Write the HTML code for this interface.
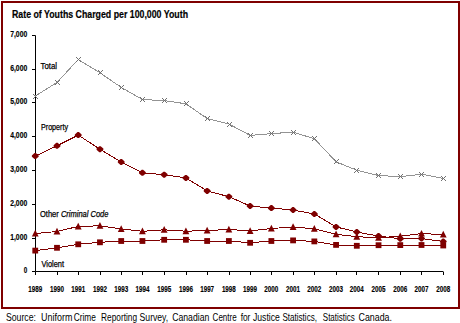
<!DOCTYPE html>
<html><head><meta charset="utf-8"><style>
html,body{margin:0;padding:0;background:#fff;width:460px;height:323px;overflow:hidden}
.box{position:absolute;left:1px;top:1px;width:455px;height:304px;border:2px solid #7f0000;}
svg{position:absolute;left:0;top:0;font-family:"Liberation Sans",sans-serif}
</style></head><body>
<div class="box"></div>
<svg width="460" height="310" viewBox="0 0 460 310" style="font-family:'Liberation Sans',sans-serif">
<path d="M35.5 35.5 V271.5 H443" stroke="#000" stroke-width="1" fill="none"/>
<path d="M32 271.5 H35.5" stroke="#000" stroke-width="1"/>
<path d="M32 238.5 H35.5" stroke="#000" stroke-width="1"/>
<path d="M32 204.5 H35.5" stroke="#000" stroke-width="1"/>
<path d="M32 170.5 H35.5" stroke="#000" stroke-width="1"/>
<path d="M32 136.5 H35.5" stroke="#000" stroke-width="1"/>
<path d="M32 102.5 H35.5" stroke="#000" stroke-width="1"/>
<path d="M32 69.5 H35.5" stroke="#000" stroke-width="1"/>
<path d="M32 35.5 H35.5" stroke="#000" stroke-width="1"/>
<path d="M35.5 271.5 V275" stroke="#000" stroke-width="1"/>
<path d="M57.5 271.5 V275" stroke="#000" stroke-width="1"/>
<path d="M78.5 271.5 V275" stroke="#000" stroke-width="1"/>
<path d="M100.5 271.5 V275" stroke="#000" stroke-width="1"/>
<path d="M121.5 271.5 V275" stroke="#000" stroke-width="1"/>
<path d="M142.5 271.5 V275" stroke="#000" stroke-width="1"/>
<path d="M164.5 271.5 V275" stroke="#000" stroke-width="1"/>
<path d="M186.5 271.5 V275" stroke="#000" stroke-width="1"/>
<path d="M207.5 271.5 V275" stroke="#000" stroke-width="1"/>
<path d="M229.5 271.5 V275" stroke="#000" stroke-width="1"/>
<path d="M250.5 271.5 V275" stroke="#000" stroke-width="1"/>
<path d="M271.5 271.5 V275" stroke="#000" stroke-width="1"/>
<path d="M293.5 271.5 V275" stroke="#000" stroke-width="1"/>
<path d="M314.5 271.5 V275" stroke="#000" stroke-width="1"/>
<path d="M336.5 271.5 V275" stroke="#000" stroke-width="1"/>
<path d="M356.5 271.5 V275" stroke="#000" stroke-width="1"/>
<path d="M378.5 271.5 V275" stroke="#000" stroke-width="1"/>
<path d="M400.5 271.5 V275" stroke="#000" stroke-width="1"/>
<path d="M421.5 271.5 V275" stroke="#000" stroke-width="1"/>
<path d="M443.5 271.5 V275" stroke="#000" stroke-width="1"/>
<polyline points="35.25,96.00 56.99,82.50 78.22,59.50 99.96,72.80 121.20,87.40 142.43,99.50 164.17,100.60 185.91,103.80 207.14,118.50 228.88,124.00 250.12,135.40 271.36,133.60 293.09,132.20 314.33,138.70 336.07,161.80 356.80,170.30 378.54,175.50 400.28,176.70 421.51,174.20 443.25,178.50" fill="none" stroke="#939393" stroke-width="1.0" stroke-linejoin="round" shape-rendering="crispEdges"/>
<path d="M33.0 94h1v1h-1zM34.0 95h1v1h-1zM35.0 96h1v1h-1zM36.0 97h1v1h-1zM37.0 98h1v1h-1zM33 98h1v1h-1zM34 97h1v1h-1zM36 95h1v1h-1zM37 94h1v1h-1z" fill="#707070"/>
<path d="M55.0 80h1v1h-1zM56.0 81h1v1h-1zM57.0 82h1v1h-1zM58.0 83h1v1h-1zM59.0 84h1v1h-1zM55 84h1v1h-1zM56 83h1v1h-1zM58 81h1v1h-1zM59 80h1v1h-1z" fill="#707070"/>
<path d="M76.0 57h1v1h-1zM77.0 58h1v1h-1zM78.0 59h1v1h-1zM79.0 60h1v1h-1zM80.0 61h1v1h-1zM76 61h1v1h-1zM77 60h1v1h-1zM79 58h1v1h-1zM80 57h1v1h-1z" fill="#707070"/>
<path d="M98.0 70h1v1h-1zM99.0 71h1v1h-1zM100.0 72h1v1h-1zM101.0 73h1v1h-1zM102.0 74h1v1h-1zM98 74h1v1h-1zM99 73h1v1h-1zM101 71h1v1h-1zM102 70h1v1h-1z" fill="#707070"/>
<path d="M119.0 85h1v1h-1zM120.0 86h1v1h-1zM121.0 87h1v1h-1zM122.0 88h1v1h-1zM123.0 89h1v1h-1zM119 89h1v1h-1zM120 88h1v1h-1zM122 86h1v1h-1zM123 85h1v1h-1z" fill="#707070"/>
<path d="M140.0 97h1v1h-1zM141.0 98h1v1h-1zM142.0 99h1v1h-1zM143.0 100h1v1h-1zM144.0 101h1v1h-1zM140 101h1v1h-1zM141 100h1v1h-1zM143 98h1v1h-1zM144 97h1v1h-1z" fill="#707070"/>
<path d="M162.0 98h1v1h-1zM163.0 99h1v1h-1zM164.0 100h1v1h-1zM165.0 101h1v1h-1zM166.0 102h1v1h-1zM162 102h1v1h-1zM163 101h1v1h-1zM165 99h1v1h-1zM166 98h1v1h-1z" fill="#707070"/>
<path d="M184.0 101h1v1h-1zM185.0 102h1v1h-1zM186.0 103h1v1h-1zM187.0 104h1v1h-1zM188.0 105h1v1h-1zM184 105h1v1h-1zM185 104h1v1h-1zM187 102h1v1h-1zM188 101h1v1h-1z" fill="#707070"/>
<path d="M205.0 116h1v1h-1zM206.0 117h1v1h-1zM207.0 118h1v1h-1zM208.0 119h1v1h-1zM209.0 120h1v1h-1zM205 120h1v1h-1zM206 119h1v1h-1zM208 117h1v1h-1zM209 116h1v1h-1z" fill="#707070"/>
<path d="M227.0 122h1v1h-1zM228.0 123h1v1h-1zM229.0 124h1v1h-1zM230.0 125h1v1h-1zM231.0 126h1v1h-1zM227 126h1v1h-1zM228 125h1v1h-1zM230 123h1v1h-1zM231 122h1v1h-1z" fill="#707070"/>
<path d="M248.0 133h1v1h-1zM249.0 134h1v1h-1zM250.0 135h1v1h-1zM251.0 136h1v1h-1zM252.0 137h1v1h-1zM248 137h1v1h-1zM249 136h1v1h-1zM251 134h1v1h-1zM252 133h1v1h-1z" fill="#707070"/>
<path d="M269.0 131h1v1h-1zM270.0 132h1v1h-1zM271.0 133h1v1h-1zM272.0 134h1v1h-1zM273.0 135h1v1h-1zM269 135h1v1h-1zM270 134h1v1h-1zM272 132h1v1h-1zM273 131h1v1h-1z" fill="#707070"/>
<path d="M291.0 130h1v1h-1zM292.0 131h1v1h-1zM293.0 132h1v1h-1zM294.0 133h1v1h-1zM295.0 134h1v1h-1zM291 134h1v1h-1zM292 133h1v1h-1zM294 131h1v1h-1zM295 130h1v1h-1z" fill="#707070"/>
<path d="M312.0 136h1v1h-1zM313.0 137h1v1h-1zM314.0 138h1v1h-1zM315.0 139h1v1h-1zM316.0 140h1v1h-1zM312 140h1v1h-1zM313 139h1v1h-1zM315 137h1v1h-1zM316 136h1v1h-1z" fill="#707070"/>
<path d="M334.0 159h1v1h-1zM335.0 160h1v1h-1zM336.0 161h1v1h-1zM337.0 162h1v1h-1zM338.0 163h1v1h-1zM334 163h1v1h-1zM335 162h1v1h-1zM337 160h1v1h-1zM338 159h1v1h-1z" fill="#707070"/>
<path d="M354.0 168h1v1h-1zM355.0 169h1v1h-1zM356.0 170h1v1h-1zM357.0 171h1v1h-1zM358.0 172h1v1h-1zM354 172h1v1h-1zM355 171h1v1h-1zM357 169h1v1h-1zM358 168h1v1h-1z" fill="#707070"/>
<path d="M376.0 173h1v1h-1zM377.0 174h1v1h-1zM378.0 175h1v1h-1zM379.0 176h1v1h-1zM380.0 177h1v1h-1zM376 177h1v1h-1zM377 176h1v1h-1zM379 174h1v1h-1zM380 173h1v1h-1z" fill="#707070"/>
<path d="M398.0 174h1v1h-1zM399.0 175h1v1h-1zM400.0 176h1v1h-1zM401.0 177h1v1h-1zM402.0 178h1v1h-1zM398 178h1v1h-1zM399 177h1v1h-1zM401 175h1v1h-1zM402 174h1v1h-1z" fill="#707070"/>
<path d="M419.0 172h1v1h-1zM420.0 173h1v1h-1zM421.0 174h1v1h-1zM422.0 175h1v1h-1zM423.0 176h1v1h-1zM419 176h1v1h-1zM420 175h1v1h-1zM422 173h1v1h-1zM423 172h1v1h-1z" fill="#707070"/>
<path d="M441.0 176h1v1h-1zM442.0 177h1v1h-1zM443.0 178h1v1h-1zM444.0 179h1v1h-1zM445.0 180h1v1h-1zM441 180h1v1h-1zM442 179h1v1h-1zM444 177h1v1h-1zM445 176h1v1h-1z" fill="#707070"/>
<polyline points="35.25,156.10 56.99,145.80 78.22,135.10 99.96,149.20 121.20,162.00 142.43,172.80 164.17,174.70 185.91,177.90 207.14,190.90 228.88,196.70 250.12,206.00 271.36,208.10 293.09,210.00 314.33,214.00 336.07,226.90 356.80,232.00 378.54,236.10 400.28,238.70 421.51,238.50 443.25,241.50" fill="none" stroke="#7f0000" stroke-width="1.0" stroke-linejoin="round" shape-rendering="crispEdges"/>
<path d="M34.55 153.10 L35.95 153.10 L38.65 155.50 L38.65 156.70 L35.95 159.10 L34.55 159.10 L31.85 156.70 L31.85 155.50Z" fill="#7f0000"/>
<path d="M56.29 142.80 L57.69 142.80 L60.39 145.20 L60.39 146.40 L57.69 148.80 L56.29 148.80 L53.59 146.40 L53.59 145.20Z" fill="#7f0000"/>
<path d="M77.52 132.10 L78.92 132.10 L81.62 134.50 L81.62 135.70 L78.92 138.10 L77.52 138.10 L74.82 135.70 L74.82 134.50Z" fill="#7f0000"/>
<path d="M99.26 146.20 L100.66 146.20 L103.36 148.60 L103.36 149.80 L100.66 152.20 L99.26 152.20 L96.56 149.80 L96.56 148.60Z" fill="#7f0000"/>
<path d="M120.50 159.00 L121.90 159.00 L124.60 161.40 L124.60 162.60 L121.90 165.00 L120.50 165.00 L117.80 162.60 L117.80 161.40Z" fill="#7f0000"/>
<path d="M141.73 169.80 L143.13 169.80 L145.83 172.20 L145.83 173.40 L143.13 175.80 L141.73 175.80 L139.03 173.40 L139.03 172.20Z" fill="#7f0000"/>
<path d="M163.47 171.70 L164.87 171.70 L167.57 174.10 L167.57 175.30 L164.87 177.70 L163.47 177.70 L160.77 175.30 L160.77 174.10Z" fill="#7f0000"/>
<path d="M185.21 174.90 L186.61 174.90 L189.31 177.30 L189.31 178.50 L186.61 180.90 L185.21 180.90 L182.51 178.50 L182.51 177.30Z" fill="#7f0000"/>
<path d="M206.44 187.90 L207.84 187.90 L210.54 190.30 L210.54 191.50 L207.84 193.90 L206.44 193.90 L203.74 191.50 L203.74 190.30Z" fill="#7f0000"/>
<path d="M228.18 193.70 L229.58 193.70 L232.28 196.10 L232.28 197.30 L229.58 199.70 L228.18 199.70 L225.48 197.30 L225.48 196.10Z" fill="#7f0000"/>
<path d="M249.42 203.00 L250.82 203.00 L253.52 205.40 L253.52 206.60 L250.82 209.00 L249.42 209.00 L246.72 206.60 L246.72 205.40Z" fill="#7f0000"/>
<path d="M270.66 205.10 L272.06 205.10 L274.76 207.50 L274.76 208.70 L272.06 211.10 L270.66 211.10 L267.96 208.70 L267.96 207.50Z" fill="#7f0000"/>
<path d="M292.39 207.00 L293.79 207.00 L296.49 209.40 L296.49 210.60 L293.79 213.00 L292.39 213.00 L289.69 210.60 L289.69 209.40Z" fill="#7f0000"/>
<path d="M313.63 211.00 L315.03 211.00 L317.73 213.40 L317.73 214.60 L315.03 217.00 L313.63 217.00 L310.93 214.60 L310.93 213.40Z" fill="#7f0000"/>
<path d="M335.37 223.90 L336.77 223.90 L339.47 226.30 L339.47 227.50 L336.77 229.90 L335.37 229.90 L332.67 227.50 L332.67 226.30Z" fill="#7f0000"/>
<path d="M356.10 229.00 L357.50 229.00 L360.20 231.40 L360.20 232.60 L357.50 235.00 L356.10 235.00 L353.40 232.60 L353.40 231.40Z" fill="#7f0000"/>
<path d="M377.84 233.10 L379.24 233.10 L381.94 235.50 L381.94 236.70 L379.24 239.10 L377.84 239.10 L375.14 236.70 L375.14 235.50Z" fill="#7f0000"/>
<path d="M399.58 235.70 L400.98 235.70 L403.68 238.10 L403.68 239.30 L400.98 241.70 L399.58 241.70 L396.88 239.30 L396.88 238.10Z" fill="#7f0000"/>
<path d="M420.81 235.50 L422.21 235.50 L424.91 237.90 L424.91 239.10 L422.21 241.50 L420.81 241.50 L418.11 239.10 L418.11 237.90Z" fill="#7f0000"/>
<path d="M442.55 238.50 L443.95 238.50 L446.65 240.90 L446.65 242.10 L443.95 244.50 L442.55 244.50 L439.85 242.10 L439.85 240.90Z" fill="#7f0000"/>
<polyline points="35.25,233.50 56.99,231.50 78.22,226.40 99.96,225.80 121.20,228.90 142.43,231.30 164.17,229.80 185.91,231.20 207.14,230.50 228.88,229.50 250.12,230.90 271.36,228.50 293.09,227.00 314.33,228.80 336.07,234.30 356.80,236.70 378.54,237.80 400.28,236.20 421.51,233.60 443.25,234.50" fill="none" stroke="#7f0000" stroke-width="1.0" stroke-linejoin="round" shape-rendering="crispEdges"/>
<path d="M35.25 229.80 L38.65 236.50 L31.85 236.50Z" fill="#7f0000"/>
<path d="M56.99 227.80 L60.39 234.50 L53.59 234.50Z" fill="#7f0000"/>
<path d="M78.22 222.70 L81.62 229.40 L74.82 229.40Z" fill="#7f0000"/>
<path d="M99.96 222.10 L103.36 228.80 L96.56 228.80Z" fill="#7f0000"/>
<path d="M121.20 225.20 L124.60 231.90 L117.80 231.90Z" fill="#7f0000"/>
<path d="M142.43 227.60 L145.83 234.30 L139.03 234.30Z" fill="#7f0000"/>
<path d="M164.17 226.10 L167.57 232.80 L160.77 232.80Z" fill="#7f0000"/>
<path d="M185.91 227.50 L189.31 234.20 L182.51 234.20Z" fill="#7f0000"/>
<path d="M207.14 226.80 L210.54 233.50 L203.74 233.50Z" fill="#7f0000"/>
<path d="M228.88 225.80 L232.28 232.50 L225.48 232.50Z" fill="#7f0000"/>
<path d="M250.12 227.20 L253.52 233.90 L246.72 233.90Z" fill="#7f0000"/>
<path d="M271.36 224.80 L274.76 231.50 L267.96 231.50Z" fill="#7f0000"/>
<path d="M293.09 223.30 L296.49 230.00 L289.69 230.00Z" fill="#7f0000"/>
<path d="M314.33 225.10 L317.73 231.80 L310.93 231.80Z" fill="#7f0000"/>
<path d="M336.07 230.60 L339.47 237.30 L332.67 237.30Z" fill="#7f0000"/>
<path d="M356.80 233.00 L360.20 239.70 L353.40 239.70Z" fill="#7f0000"/>
<path d="M378.54 234.10 L381.94 240.80 L375.14 240.80Z" fill="#7f0000"/>
<path d="M400.28 232.50 L403.68 239.20 L396.88 239.20Z" fill="#7f0000"/>
<path d="M421.51 229.90 L424.91 236.60 L418.11 236.60Z" fill="#7f0000"/>
<path d="M443.25 230.80 L446.65 237.50 L439.85 237.50Z" fill="#7f0000"/>
<polyline points="35.25,250.60 56.99,247.80 78.22,244.30 99.96,242.30 121.20,241.00 142.43,241.00 164.17,239.80 185.91,239.80 207.14,241.00 228.88,241.00 250.12,242.80 271.36,241.00 293.09,240.40 314.33,241.40 336.07,244.90 356.80,245.80 378.54,245.20 400.28,245.10 421.51,245.00 443.25,245.50" fill="none" stroke="#7f0000" stroke-width="1.0" stroke-linejoin="round" shape-rendering="crispEdges"/>
<rect x="32.35" y="247.70" width="5.8" height="5.8" fill="#7f0000"/>
<rect x="54.09" y="244.90" width="5.8" height="5.8" fill="#7f0000"/>
<rect x="75.32" y="241.40" width="5.8" height="5.8" fill="#7f0000"/>
<rect x="97.06" y="239.40" width="5.8" height="5.8" fill="#7f0000"/>
<rect x="118.30" y="238.10" width="5.8" height="5.8" fill="#7f0000"/>
<rect x="139.53" y="238.10" width="5.8" height="5.8" fill="#7f0000"/>
<rect x="161.27" y="236.90" width="5.8" height="5.8" fill="#7f0000"/>
<rect x="183.01" y="236.90" width="5.8" height="5.8" fill="#7f0000"/>
<rect x="204.24" y="238.10" width="5.8" height="5.8" fill="#7f0000"/>
<rect x="225.98" y="238.10" width="5.8" height="5.8" fill="#7f0000"/>
<rect x="247.22" y="239.90" width="5.8" height="5.8" fill="#7f0000"/>
<rect x="268.46" y="238.10" width="5.8" height="5.8" fill="#7f0000"/>
<rect x="290.19" y="237.50" width="5.8" height="5.8" fill="#7f0000"/>
<rect x="311.43" y="238.50" width="5.8" height="5.8" fill="#7f0000"/>
<rect x="333.17" y="242.00" width="5.8" height="5.8" fill="#7f0000"/>
<rect x="353.90" y="242.90" width="5.8" height="5.8" fill="#7f0000"/>
<rect x="375.64" y="242.30" width="5.8" height="5.8" fill="#7f0000"/>
<rect x="397.38" y="242.20" width="5.8" height="5.8" fill="#7f0000"/>
<rect x="418.61" y="242.10" width="5.8" height="5.8" fill="#7f0000"/>
<rect x="440.35" y="242.60" width="5.8" height="5.8" fill="#7f0000"/>
<text x="12" y="18" font-size="11" font-weight="bold" text-anchor="start" textLength="176" lengthAdjust="spacingAndGlyphs" stroke="#000" stroke-width="0.2">Rate of Youths Charged per 100,000 Youth</text>
<text x="27.2" y="272.8" font-size="9" font-weight="bold" text-anchor="end" textLength="3.5" lengthAdjust="spacingAndGlyphs" stroke="#000" stroke-width="0.15">0</text>
<text x="27.2" y="239.8" font-size="9" font-weight="bold" text-anchor="end" textLength="17" lengthAdjust="spacingAndGlyphs" stroke="#000" stroke-width="0.15">1,000</text>
<text x="27.2" y="205.8" font-size="9" font-weight="bold" text-anchor="end" textLength="17" lengthAdjust="spacingAndGlyphs" stroke="#000" stroke-width="0.15">2,000</text>
<text x="27.2" y="171.8" font-size="9" font-weight="bold" text-anchor="end" textLength="17" lengthAdjust="spacingAndGlyphs" stroke="#000" stroke-width="0.15">3,000</text>
<text x="27.2" y="137.8" font-size="9" font-weight="bold" text-anchor="end" textLength="17" lengthAdjust="spacingAndGlyphs" stroke="#000" stroke-width="0.15">4,000</text>
<text x="27.2" y="103.8" font-size="9" font-weight="bold" text-anchor="end" textLength="17" lengthAdjust="spacingAndGlyphs" stroke="#000" stroke-width="0.15">5,000</text>
<text x="27.2" y="70.8" font-size="9" font-weight="bold" text-anchor="end" textLength="17" lengthAdjust="spacingAndGlyphs" stroke="#000" stroke-width="0.15">6,000</text>
<text x="27.2" y="36.8" font-size="9" font-weight="bold" text-anchor="end" textLength="17" lengthAdjust="spacingAndGlyphs" stroke="#000" stroke-width="0.15">7,000</text>
<text x="35.25" y="292.3" font-size="9" font-weight="bold" text-anchor="middle" textLength="14" lengthAdjust="spacingAndGlyphs" stroke="#000" stroke-width="0.15">1989</text>
<text x="56.99" y="292.3" font-size="9" font-weight="bold" text-anchor="middle" textLength="14" lengthAdjust="spacingAndGlyphs" stroke="#000" stroke-width="0.15">1990</text>
<text x="78.22" y="292.3" font-size="9" font-weight="bold" text-anchor="middle" textLength="14" lengthAdjust="spacingAndGlyphs" stroke="#000" stroke-width="0.15">1991</text>
<text x="99.96" y="292.3" font-size="9" font-weight="bold" text-anchor="middle" textLength="14" lengthAdjust="spacingAndGlyphs" stroke="#000" stroke-width="0.15">1992</text>
<text x="121.2" y="292.3" font-size="9" font-weight="bold" text-anchor="middle" textLength="14" lengthAdjust="spacingAndGlyphs" stroke="#000" stroke-width="0.15">1993</text>
<text x="142.43" y="292.3" font-size="9" font-weight="bold" text-anchor="middle" textLength="14" lengthAdjust="spacingAndGlyphs" stroke="#000" stroke-width="0.15">1994</text>
<text x="164.17" y="292.3" font-size="9" font-weight="bold" text-anchor="middle" textLength="14" lengthAdjust="spacingAndGlyphs" stroke="#000" stroke-width="0.15">1995</text>
<text x="185.91" y="292.3" font-size="9" font-weight="bold" text-anchor="middle" textLength="14" lengthAdjust="spacingAndGlyphs" stroke="#000" stroke-width="0.15">1996</text>
<text x="207.14" y="292.3" font-size="9" font-weight="bold" text-anchor="middle" textLength="14" lengthAdjust="spacingAndGlyphs" stroke="#000" stroke-width="0.15">1997</text>
<text x="228.88" y="292.3" font-size="9" font-weight="bold" text-anchor="middle" textLength="14" lengthAdjust="spacingAndGlyphs" stroke="#000" stroke-width="0.15">1998</text>
<text x="250.12" y="292.3" font-size="9" font-weight="bold" text-anchor="middle" textLength="14" lengthAdjust="spacingAndGlyphs" stroke="#000" stroke-width="0.15">1999</text>
<text x="271.36" y="292.3" font-size="9" font-weight="bold" text-anchor="middle" textLength="14" lengthAdjust="spacingAndGlyphs" stroke="#000" stroke-width="0.15">2000</text>
<text x="293.09" y="292.3" font-size="9" font-weight="bold" text-anchor="middle" textLength="14" lengthAdjust="spacingAndGlyphs" stroke="#000" stroke-width="0.15">2001</text>
<text x="314.33" y="292.3" font-size="9" font-weight="bold" text-anchor="middle" textLength="14" lengthAdjust="spacingAndGlyphs" stroke="#000" stroke-width="0.15">2002</text>
<text x="336.07" y="292.3" font-size="9" font-weight="bold" text-anchor="middle" textLength="14" lengthAdjust="spacingAndGlyphs" stroke="#000" stroke-width="0.15">2003</text>
<text x="356.8" y="292.3" font-size="9" font-weight="bold" text-anchor="middle" textLength="14" lengthAdjust="spacingAndGlyphs" stroke="#000" stroke-width="0.15">2004</text>
<text x="378.54" y="292.3" font-size="9" font-weight="bold" text-anchor="middle" textLength="14" lengthAdjust="spacingAndGlyphs" stroke="#000" stroke-width="0.15">2005</text>
<text x="400.28" y="292.3" font-size="9" font-weight="bold" text-anchor="middle" textLength="14" lengthAdjust="spacingAndGlyphs" stroke="#000" stroke-width="0.15">2006</text>
<text x="421.51" y="292.3" font-size="9" font-weight="bold" text-anchor="middle" textLength="14" lengthAdjust="spacingAndGlyphs" stroke="#000" stroke-width="0.15">2007</text>
<text x="443.25" y="292.3" font-size="9" font-weight="bold" text-anchor="middle" textLength="14" lengthAdjust="spacingAndGlyphs" stroke="#000" stroke-width="0.15">2008</text>
<text x="40.5" y="69" font-size="8.6" text-anchor="start" textLength="16.5" lengthAdjust="spacingAndGlyphs" stroke="#000" stroke-width="0.25">Total</text>
<text x="41" y="130" font-size="8.6" text-anchor="start" textLength="27" lengthAdjust="spacingAndGlyphs" stroke="#000" stroke-width="0.25">Property</text>
<text x="40" y="217.2" font-size="8.6" textLength="68.5" lengthAdjust="spacingAndGlyphs" stroke="#000" stroke-width="0.25">Other <tspan font-style="italic">Criminal Code</tspan></text>
<text x="41.5" y="267" font-size="8.6" text-anchor="start" textLength="22.5" lengthAdjust="spacingAndGlyphs" stroke="#000" stroke-width="0.25">Violent</text>
</svg>
<svg width="460" height="323"><text x="5.90" y="321" font-size="11" textLength="30.00" lengthAdjust="spacingAndGlyphs">Source:</text><text x="41.10" y="321" font-size="11" textLength="31.30" lengthAdjust="spacingAndGlyphs">Uniform</text><text x="73.70" y="321" font-size="11" textLength="22.20" lengthAdjust="spacingAndGlyphs">Crime</text><text x="101.10" y="321" font-size="11" textLength="35.90" lengthAdjust="spacingAndGlyphs">Reporting</text><text x="139.60" y="321" font-size="11" textLength="28.60" lengthAdjust="spacingAndGlyphs">Survey,</text><text x="172.20" y="321" font-size="11" textLength="37.10" lengthAdjust="spacingAndGlyphs">Canadian</text><text x="212.60" y="321" font-size="11" textLength="24.10" lengthAdjust="spacingAndGlyphs">Centre</text><text x="240.70" y="321" font-size="11" textLength="9.70" lengthAdjust="spacingAndGlyphs">for</text><text x="253.00" y="321" font-size="11" textLength="26.80" lengthAdjust="spacingAndGlyphs">Justice</text><text x="282.40" y="321" font-size="11" textLength="34.60" lengthAdjust="spacingAndGlyphs">Statistics,</text><text x="322.80" y="321" font-size="11" textLength="32.00" lengthAdjust="spacingAndGlyphs">Statistics</text><text x="358.50" y="321" font-size="11" textLength="33.50" lengthAdjust="spacingAndGlyphs">Canada.</text></svg>
</body></html>
